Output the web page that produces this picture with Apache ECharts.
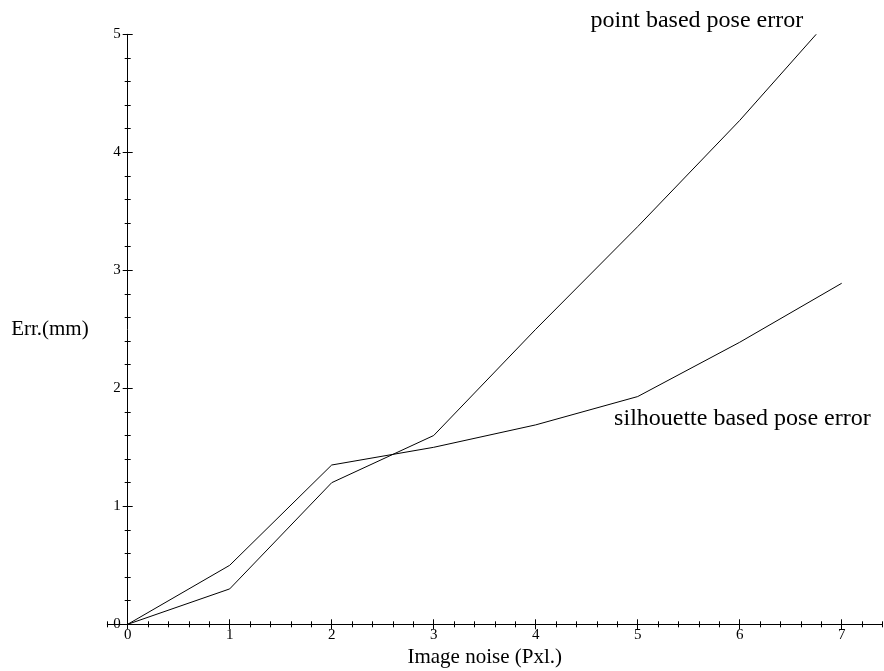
<!DOCTYPE html>
<html>
<head>
    <meta charset="utf-8"/>
    <title>Err vs image noise</title>
    <script src="https://cdn.jsdelivr.net/npm/echarts@6/dist/echarts.min.js"></script>
    <style>
        html, body { margin: 0; padding: 0; background: #fff; }
        #main { width: 884px; height: 671px; }
    </style>
</head>
<body>
    <div id="main"></div>
    <script type="text/javascript">
        // 数据
        var pointNoise = [0, 1, 2, 3, 4, 5, 6, 6.75];
        var pointErr = [0, 0.3, 1.2, 1.6, 2.5, 3.37, 4.27, 5.0];
        var silNoise = [0, 1, 2, 3, 4, 5, 6, 7];
        var silErr = [0, 0.5, 1.35, 1.5, 1.69, 1.93, 2.39, 2.89];

        var serif = 'Liberation Serif';
        var black = '#000';

        function pairs(xs, ys) {
            return xs.map(function (x, i) { return [x, ys[i]]; });
        }

        var myChart = echarts.init(document.getElementById('main'));

        var gridPos = { top: 34.3, bottom: 46.7 };
        var option = {
            animation: false,
            grid: [
                // 整条横轴（含 0 左侧一小段）和细刻度
                { left: 107.3, right: 1.5, top: gridPos.top, bottom: gridPos.bottom, outerBoundsMode: 'none' },
                // 画线用的主网格
                { left: 127.7, right: 42.3, top: gridPos.top, bottom: gridPos.bottom, outerBoundsMode: 'none' }
            ],
            xAxis: [
                {
                    gridIndex: 0, type: 'value', position: 'bottom',
                    min: -0.2, max: 7.4, interval: 0.2,
                    axisLine: { onZero: false, lineStyle: { color: black, width: 1 } },
                    axisTick: { length: 3, lineStyle: { color: black } },
                    axisLabel: { show: false },
                    splitLine: { show: false }
                },
                {
                    gridIndex: 0, type: 'value', position: 'bottom',
                    min: -0.2, max: 7.4, interval: 0.2,
                    axisLine: { show: false, onZero: false },
                    axisTick: { inside: true, length: 3, lineStyle: { color: black } },
                    axisLabel: { show: false },
                    splitLine: { show: false }
                },
                {
                    gridIndex: 1, type: 'value', position: 'bottom',
                    min: 0, max: 7, interval: 1,
                    axisLine: { show: false, onZero: false },
                    axisTick: { length: 5, lineStyle: { color: black } },
                    axisLabel: { color: black, fontFamily: serif, fontSize: 15, margin: 3 },
                    splitLine: { show: false },
                    name: 'Image noise (Pxl.)',
                    nameLocation: 'middle',
                    nameGap: 21,
                    nameTextStyle: { color: black, fontFamily: serif, fontSize: 21 }
                },
                {
                    gridIndex: 1, type: 'value', position: 'bottom',
                    min: 0, max: 7, interval: 1,
                    axisLine: { show: false, onZero: false },
                    axisTick: { inside: true, length: 5, lineStyle: { color: black } },
                    axisLabel: { show: false },
                    splitLine: { show: false }
                }
            ],
            yAxis: [
                {
                    gridIndex: 1, type: 'value', position: 'left',
                    min: 0, max: 5, interval: 1,
                    axisLine: { show: true, onZero: false, lineStyle: { color: black, width: 1 } },
                    axisTick: { show: true, length: 5, lineStyle: { color: black } },
                    minorTick: { show: true, splitNumber: 5, length: 3, lineStyle: { color: black } },
                    axisLabel: { color: black, fontFamily: serif, fontSize: 15, margin: 7 },
                    splitLine: { show: false },
                    name: 'Err.(mm)',
                    nameLocation: 'middle',
                    nameRotate: 0,
                    nameGap: 39,
                    nameTextStyle: { color: black, fontFamily: serif, fontSize: 21 }
                },
                {
                    gridIndex: 1, type: 'value', position: 'left',
                    min: 0, max: 5, interval: 1,
                    axisLine: { show: false, onZero: false },
                    axisTick: { show: true, inside: true, length: 5, lineStyle: { color: black } },
                    minorTick: { show: true, splitNumber: 5, length: 3, lineStyle: { color: black } },
                    axisLabel: { show: false },
                    splitLine: { show: false }
                },
                {
                    gridIndex: 0, type: 'value', show: false, min: 0, max: 1
                }
            ],
            series: [
                {
                    name: 'point based pose error',
                    type: 'line',
                    xAxisIndex: 2, yAxisIndex: 0,
                    data: pairs(pointNoise, pointErr),
                    showSymbol: false,
                    lineStyle: { color: black, width: 1 },
                    endLabel: {
                        show: true,
                        formatter: 'point based pose error',
                        align: 'right',
                        offset: [-21, -14],
                        color: black, fontFamily: serif, fontSize: 24
                    }
                },
                {
                    name: 'silhouette based pose error',
                    type: 'line',
                    xAxisIndex: 2, yAxisIndex: 0,
                    data: pairs(silNoise, silErr),
                    showSymbol: false,
                    lineStyle: { color: black, width: 1 },
                    endLabel: {
                        show: true,
                        formatter: 'silhouette based pose error',
                        align: 'right',
                        offset: [21, 135],
                        color: black, fontFamily: serif, fontSize: 24
                    }
                }
            ]
        };

        myChart.setOption(option);
    </script>
</body>
</html>
